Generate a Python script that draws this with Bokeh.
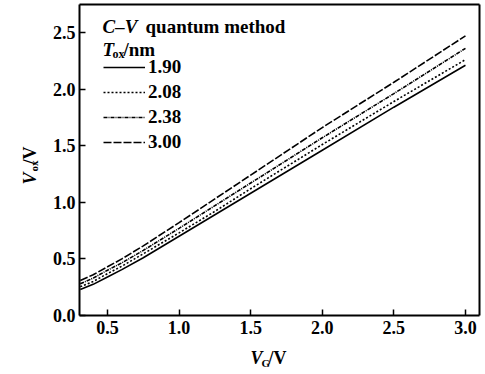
import math
from bokeh.plotting import figure
from bokeh.models import (Range1d, Label, Legend, LegendItem, FixedTicker,
                          NumeralTickFormatter, LinearAxis)
from bokeh.embed import file_html
from bokeh.resources import INLINE

# ---- data ----
vg = [0.31, 0.4, 0.5, 0.6, 0.75, 1.0, 1.25, 1.5, 2.0, 2.5, 3.0]
tox_labels = ["1.90", "2.08", "2.38", "3.00"]
vox_190 = [0.23, 0.275, 0.34, 0.405, 0.51, 0.70, 0.89, 1.08, 1.46, 1.84, 2.21]
vox_208 = [0.255, 0.30, 0.37, 0.435, 0.545, 0.73, 0.92, 1.12, 1.51, 1.89, 2.26]
vox_238 = [0.28, 0.33, 0.40, 0.465, 0.575, 0.77, 0.97, 1.17, 1.57, 1.96, 2.36]
vox_300 = [0.31, 0.36, 0.43, 0.50, 0.615, 0.82, 1.03, 1.24, 1.66, 2.06, 2.47]
x_ticks = [0.5, 1.0, 1.5, 2.0, 2.5, 3.0]
y_ticks = [0.0, 0.5, 1.0, 1.5, 2.0, 2.5]

# ---- layout ----
W, H = 485, 374
FL, FR, FT, FB = 79, 479, 4, 315          # visible plot box in page pixels
X0, X1 = 0.3045, 3.098                     # data limits of the box
Y0, Y1 = 0.0, 2.747
sx = (FR - FL) / (X1 - X0)
sy = (FB - FT) / (Y1 - Y0)
XA, XB = X0 - FL / sx, X1 + (W - FR) / sx   # full-canvas ranges
YA, YB = Y0 - (H - FB) / sy, Y1 + FT / sy

SERIF = "Liberation Serif"

p = figure(width=W, height=H, output_backend="svg", toolbar_location=None,
           x_range=Range1d(XA, XB), y_range=Range1d(YA, YB), min_border=0)
p.title.visible = False
p.grid.visible = False
p.background_fill_color = "white"
p.border_fill_color = "white"
p.outline_line_color = None


def style_axis(ax):
    ax.axis_line_width = 2
    ax.axis_line_color = "black"
    ax.major_tick_in = 6
    ax.major_tick_out = 0
    ax.minor_tick_in = 0
    ax.minor_tick_out = 0
    ax.major_tick_line_width = 1.5
    ax.major_label_text_font = SERIF
    ax.major_label_text_font_style = "bold"
    ax.major_label_text_font_size = "18px"
    ax.major_label_text_color = "black"
    ax.formatter = NumeralTickFormatter(format="0.0")


xa = p.xaxis[0]
ya = p.yaxis[0]
style_axis(xa)
style_axis(ya)
xa.ticker = FixedTicker(ticks=x_ticks)
ya.ticker = FixedTicker(ticks=y_ticks)
xa.fixed_location = Y0
ya.fixed_location = X0
xa.bounds = (X0, X1)
ya.bounds = (Y0, Y1)
xa.major_label_standoff = 5
ya.major_label_standoff = 4

# top and right edges of the box
top = LinearAxis(ticker=FixedTicker(ticks=[]), fixed_location=Y1, bounds=(X0, X1),
                 axis_line_width=2, major_tick_in=0, major_tick_out=0,
                 minor_tick_in=0, minor_tick_out=0)
right = LinearAxis(ticker=FixedTicker(ticks=[]), fixed_location=X1, bounds=(Y0, Y1),
                   axis_line_width=2, major_tick_in=0, major_tick_out=0,
                   minor_tick_in=0, minor_tick_out=0)
p.add_layout(top, "above")
p.add_layout(right, "right")

series = [(vox_190, "solid"), (vox_208, "2 2"), (vox_238, "4 1 1 1"), (vox_300, "8 2")]
items = []
for (ys, dash), lab in zip(series, tox_labels):
    r = p.line(vg, ys, line_color="black", line_width=1.6, line_dash=dash)
    items.append(LegendItem(label=lab, renderers=[r]))

leg = Legend(items=items, location=(103, 221), orientation="vertical",
             glyph_width=42, glyph_height=20, label_height=20, spacing=3,
             padding=0, margin=0, label_standoff=3,
             label_text_font=SERIF, label_text_font_style="bold",
             label_text_font_size="19px", label_text_color="black",
             background_fill_alpha=0, border_line_alpha=0)
p.add_layout(leg)


def put(text, px, py, size, style, angle=0.0):
    # px, py: page pixel position of the text anchor (start of the baseline)
    p.add_layout(Label(x=px, y=H - py, x_units="screen", y_units="screen",
                       text=text, text_font=SERIF,
                       text_font_style=style, text_font_size=f"{size}px",
                       text_color="black", text_align="left",
                       text_baseline="alphabetic", angle=angle))

# title block
put("C\u2013V", 102, 26, 19, "bold italic")
put("quantum method", 145, 26, 19, "bold")
put("T", 102, 49, 19, "bold italic")
put("ox", 112, 53, 12, "bold")
put("/nm", 123, 49, 19, "bold")

# x axis label
put("V", 250, 357, 18, "bold italic")
put("G", 261, 362, 11, "bold")
put("/V", 268, 357, 18, "bold")

# y axis label (rotated)
a = math.pi / 2
put("V", 29, 184, 18, "bold italic", a)
put("ox", 33, 171, 11, "bold", a)
put("/V", 29, 164, 18, "bold", a)

open("out.html", "w").write(file_html(p, INLINE))
